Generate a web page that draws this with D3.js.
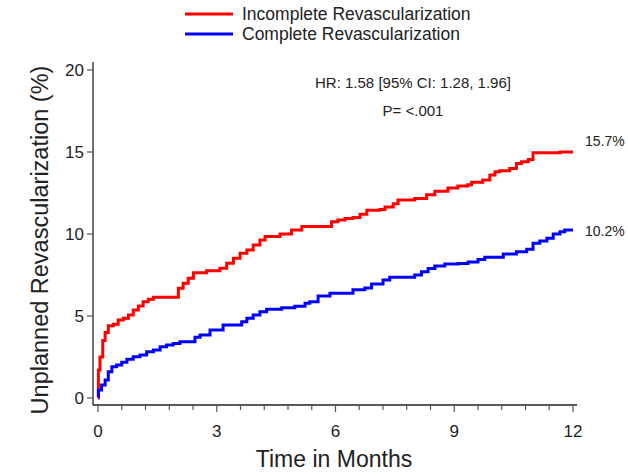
<!DOCTYPE html>
<html>
<head>
<meta charset="utf-8">
<script src="https://cdn.jsdelivr.net/npm/d3@7"></script>
<style>
  html, body { margin: 0; padding: 0; background: #fff; }
  svg { display: block; font-family: "Liberation Sans", Arial, sans-serif; }
</style>
</head>
<body>
<svg id="chart" width="628" height="473"></svg>
<script>
// Cumulative incidence of unplanned revascularization (months, %)
const incompleteTime = [0, 0.01, 0.05, 0.12, 0.18, 0.26, 0.39, 0.51, 0.64, 0.77, 0.89, 1.02, 1.14, 1.27, 1.40, 2.03, 2.15, 2.28, 2.41, 2.74, 3.08, 3.25, 3.42, 3.59, 3.76, 3.92, 4.09, 4.22, 4.60, 4.89, 5.15, 5.90, 6.06, 6.24, 6.44, 6.62, 6.79, 7.12, 7.25, 7.46, 7.58, 8.00, 8.30, 8.51, 8.84, 9.09, 9.34, 9.44, 9.72, 9.90, 10.03, 10.15, 10.40, 10.57, 10.70, 10.87, 10.99, 11.67, 12.0];
const incompleteRate = [0, 1.7, 2.5, 3.5, 4.0, 4.4, 4.5, 4.75, 4.86, 5.06, 5.37, 5.61, 5.87, 6.02, 6.14, 6.69, 6.99, 7.3, 7.64, 7.76, 7.91, 8.21, 8.52, 8.82, 9.02, 9.33, 9.63, 9.84, 10.0, 10.25, 10.45, 10.75, 10.85, 10.95, 11.0, 11.2, 11.45, 11.5, 11.65, 11.85, 12.07, 12.17, 12.4, 12.6, 12.8, 12.93, 13.0, 13.15, 13.3, 13.6, 13.8, 13.86, 14.0, 14.3, 14.4, 14.55, 14.96, 15.0, 15.0];

const completeTime = [0, 0.01, 0.09, 0.18, 0.26, 0.35, 0.47, 0.60, 0.73, 0.89, 1.06, 1.23, 1.40, 1.57, 1.73, 1.90, 2.07, 2.45, 2.58, 2.83, 3.16, 3.63, 3.76, 3.92, 4.09, 4.26, 4.64, 4.97, 5.23, 5.35, 5.56, 5.86, 6.44, 6.74, 6.91, 7.20, 7.37, 8.00, 8.17, 8.34, 8.51, 8.76, 9.10, 9.35, 9.60, 9.77, 10.24, 10.57, 10.83, 10.99, 11.16, 11.34, 11.50, 11.67, 11.79, 12.0];
const completeRate = [0.08, 0.49, 0.79, 1.1, 1.6, 1.91, 2.01, 2.18, 2.36, 2.52, 2.62, 2.82, 2.93, 3.13, 3.23, 3.33, 3.43, 3.70, 3.84, 4.14, 4.45, 4.65, 4.86, 5.06, 5.26, 5.41, 5.5, 5.6, 5.77, 5.87, 6.22, 6.38, 6.6, 6.7, 6.95, 7.2, 7.36, 7.5, 7.7, 7.9, 8.05, 8.17, 8.2, 8.3, 8.45, 8.58, 8.78, 8.92, 9.07, 9.43, 9.57, 9.74, 10.0, 10.14, 10.24, 10.24];

const seriesNames = ["Incomplete Revascularization", "Complete Revascularization"];
const seriesColors = ["#ff0000", "#0000ff"];
const endLabels = ["15.7%", "10.2%"];
const endValues = [15.7, 10.2];

const xTicks = [0, 3, 6, 9, 12];
const yTicks = [0, 5, 10, 15, 20];
const statLines = ["HR: 1.58 [95% CI: 1.28, 1.96]", "P= <.001"];

const svg = d3.select("#chart");
const ink = "#222";

const x = d3.scaleLinear().domain([0, 12]).range([98, 573]);
const y = d3.scaleLinear().domain([0, 20]).range([398, 70]);

// Axes (drawn as plain lines so the offset frame sits a little outside the data)
svg.append("line").attr("x1", 93).attr("x2", 93).attr("y1", 62).attr("y2", 405)
  .attr("stroke", ink).attr("stroke-width", 1.3);
svg.append("line").attr("x1", 93).attr("x2", 577).attr("y1", 405).attr("y2", 405)
  .attr("stroke", ink).attr("stroke-width", 1.3);

const yAxis = svg.append("g");
yAxis.selectAll("line").data(yTicks).join("line")
  .attr("x1", 87).attr("x2", 93)
  .attr("y1", d => y(d)).attr("y2", d => y(d))
  .attr("stroke", "#555").attr("stroke-width", 1.2);
yAxis.selectAll("text").data(yTicks).join("text")
  .attr("x", 84).attr("y", d => y(d)).attr("dy", "0.36em")
  .attr("text-anchor", "end").attr("font-size", 17).attr("fill", ink)
  .text(d => d);

const minor = d3.range(0, 12.001, 0.6);
svg.append("g").selectAll("line").data(minor).join("line")
  .attr("x1", d => x(d)).attr("x2", d => x(d))
  .attr("y1", 405).attr("y2", d => Math.abs(d % 3) < 1e-6 || Math.abs(d % 3 - 3) < 1e-6 ? 412 : 410)
  .attr("stroke", "#555").attr("stroke-width", 1.2);
svg.append("g").selectAll("text").data(xTicks).join("text")
  .attr("x", d => x(d)).attr("y", 437)
  .attr("text-anchor", "middle").attr("font-size", 17).attr("fill", ink)
  .text(d => d);

// Axis titles
svg.append("text")
  .attr("transform", "translate(48,240) rotate(-90)")
  .attr("text-anchor", "middle").attr("font-size", 23.5).attr("fill", ink)
  .text("Unplanned Revascularization (%)");
svg.append("text")
  .attr("x", 334).attr("y", 467)
  .attr("text-anchor", "middle").attr("font-size", 23).attr("fill", ink)
  .text("Time in Months");

// Step curves
const line = d3.line()
  .x(d => x(d[0])).y(d => y(d[1]))
  .curve(d3.curveStepAfter);
const series = [
  d3.zip(incompleteTime, incompleteRate),
  d3.zip(completeTime, completeRate)
];
series.forEach((pts, i) => {
  svg.append("path").datum(pts)
    .attr("d", line)
    .attr("fill", "none")
    .attr("stroke", seriesColors[i])
    .attr("stroke-width", 3);
});

// End-of-follow-up labels
svg.append("g").selectAll("text").data(endLabels).join("text")
  .attr("x", 585).attr("y", (d, i) => y(endValues[i])).attr("dy", "0.36em")
  .attr("font-size", 14).attr("fill", ink)
  .text(d => d);

// Hazard ratio annotation
svg.append("g").selectAll("text").data(statLines).join("text")
  .attr("x", 413).attr("y", (d, i) => 88 + i * 28)
  .attr("text-anchor", "middle").attr("font-size", 15).attr("fill", ink)
  .text(d => d);

// Legend
const legend = svg.append("g");
seriesNames.forEach((name, i) => {
  const ly = 14 + i * 20;
  legend.append("line").attr("x1", 185).attr("x2", 233).attr("y1", ly).attr("y2", ly)
    .attr("stroke", seriesColors[i]).attr("stroke-width", 3);
  legend.append("text").attr("x", 242).attr("y", ly).attr("dy", "0.36em")
    .attr("font-size", 17.5).attr("fill", ink).text(name);
});
</script>
</body>
</html>
